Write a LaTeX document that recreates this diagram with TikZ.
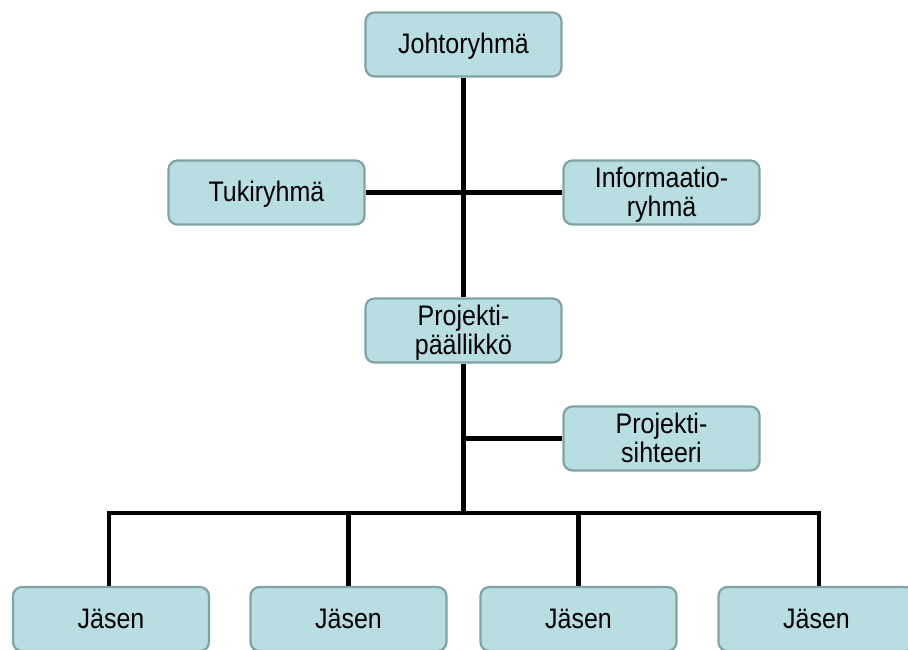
\documentclass[tikz,border=0pt]{standalone}
\usepackage{fontspec}
\usepackage{graphicx}
\setmainfont{Liberation Sans}
\definecolor{boxfill}{RGB}{184,222,226}
\definecolor{boxline}{RGB}{128,164,166}
\newcommand{\boxtxt}[1]{\raisebox{-3.5pt}[\height][\depth]{\scalebox{1}[1.13]{\begin{tabular}{@{}c@{}}#1\end{tabular}}}}
\begin{document}
\begin{tikzpicture}[x=1pt,y=-1pt,
  orgbox/.style={draw=boxline, line width=2.2pt, fill=boxfill, rounded corners=9pt,
    minimum width=196pt, minimum height=64pt, inner sep=0pt, align=center,
    font=\fontsize{25}{26.5}\selectfont},
  conn/.style={line width=4.4pt, black}]
\useasboundingbox (0,0) rectangle (908,649);
\node[orgbox] (J) at (463.5,44.5) {\boxtxt{Johtoryhmä}};
\node[orgbox] (T) at (266.5,192.5) {\boxtxt{Tukiryhmä}};
\node[orgbox] (I) at (661.5,192.5) {\boxtxt{Informaatio-\\ryhmä}};
\node[orgbox] (P) at (463.5,330.5) {\boxtxt{Projekti-\\päällikkö}};
\node[orgbox] (S) at (661.5,438.5) {\boxtxt{Projekti-\\sihteeri}};
\node[orgbox] (M1) at (111,619) {\boxtxt{Jäsen}};
\node[orgbox] (M2) at (348.5,619) {\boxtxt{Jäsen}};
\node[orgbox] (M3) at (578.5,619) {\boxtxt{Jäsen}};
\node[orgbox] (M4) at (816.5,619) {\boxtxt{Jäsen}};
\coordinate (busC) at (463.5,513);
\coordinate (busL) at (109,513);
\coordinate (busR) at (819,513);
\draw[conn] (J.south) -- (P.north);
\draw[conn] (T.east) -- (I.west);
\draw[conn] (P.south) -- (busC);
\draw[conn] (P.south |- S.west) -- (S.west);
\draw[conn, line cap=rect] (busL) -- (busR);
\draw[conn] (busL) -- (M1.north -| busL);
\draw[conn] (M2.north |- busL) -- (M2.north);
\draw[conn] (M3.north |- busL) -- (M3.north);
\draw[conn] (busR) -- (M4.north -| busR);
\end{tikzpicture}
\end{document}
